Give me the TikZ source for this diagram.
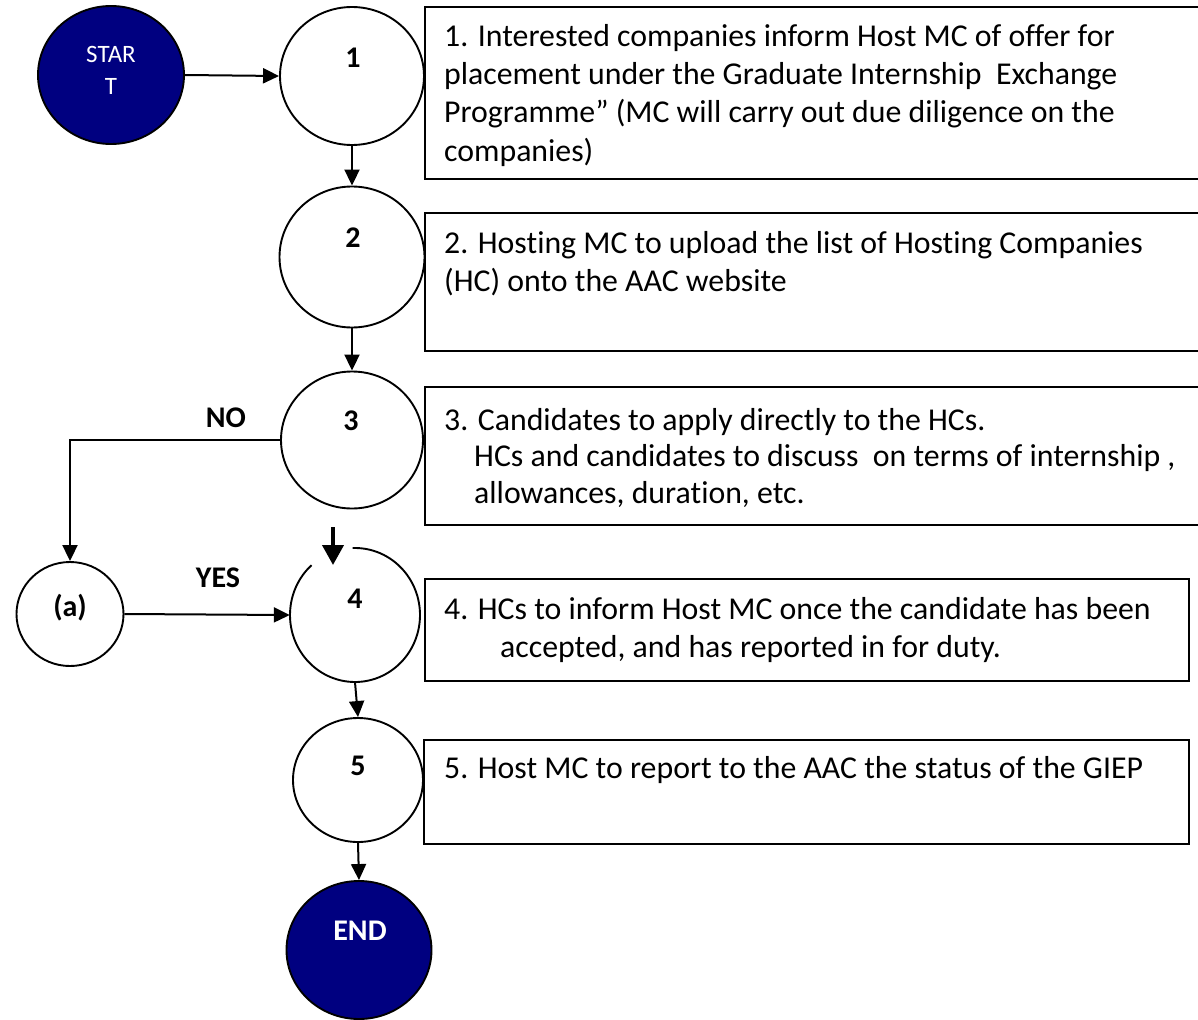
\documentclass[tikz,border=0pt]{standalone}
\usepackage{fontspec}
\setmainfont{Carlito}[Ligatures={NoCommon}]
\usetikzlibrary{shapes.geometric,arrows.meta}
\definecolor{navyfill}{RGB}{0,0,128}
\tikzset{
  circ/.style={draw=black, line width=1.9pt, ellipse, inner sep=0pt, fill=white},
  term/.style={draw=black, line width=1.9pt, ellipse, inner sep=0pt, fill=navyfill},
  boxr/.style={draw=black, line width=1.9pt, rectangle, inner sep=0pt, anchor=north west},
  txt/.style={anchor=base west, inner sep=0pt, font=\fontsize{31.8}{38}\selectfont},
  num/.style={inner sep=0pt, font=\fontsize{30}{32}\selectfont\bfseries},
  arr/.style={line width=2pt, -{Triangle[length=16pt,width=15pt]}},
}
\begin{document}
\begin{tikzpicture}[x=1pt,y=-1pt]
\clip (0,0) rectangle (1198,1019);
\fill[white] (0,0) rectangle (1198,1019);

% boxes
\node[boxr, minimum width=800pt, minimum height=172pt] (b1) at (424,6) {};
\node[boxr, minimum width=800pt, minimum height=138pt] (b2) at (424,212) {};
\node[boxr, minimum width=800pt, minimum height=138pt] (b3) at (424,386) {};
\node[boxr, minimum width=764pt, minimum height=102pt] (b4) at (424,578) {};
\node[boxr, minimum width=765pt, minimum height=104pt] (b5) at (423,739) {};

% box texts
\node[txt] (t1a) at (444,47) {1. Interested companies inform Host MC of offer for};
\node[txt] (t1b) at (444,85) {placement under the Graduate Internship\ \ Exchange};
\node[txt] (t1c) at (444,123) {Programme” (MC will carry out due diligence on the};
\node[txt] (t1d) at (444,161) {companies)};
\node[txt] (t2a) at (444,253) {2. Hosting MC to upload the list of Hosting Companies};
\node[txt] (t2b) at (444,291) {(HC) onto the AAC website};
\node[txt] (t3a) at (444,430) {3. Candidates to apply directly to the HCs.};
\node[txt] (t3b) at (474,466) {HCs and candidates to discuss\ \ on terms of internship ,};
\node[txt] (t3c) at (474,503) {allowances, duration, etc.};
\node[txt] (t4a) at (444,619) {4. HCs to inform Host MC once the candidate has been};
\node[txt] (t4b) at (500,657) {accepted, and has reported in for duty.};
\node[txt] (t5a) at (444,778) {5. Host MC to report to the AAC the status of the GIEP};

% circles
\node[term, minimum width=146pt, minimum height=138pt] (st) at (111,75) {};
\node[circ, minimum width=144pt, minimum height=138pt] (c1) at (352,76) {};
\node[circ, minimum width=145pt, minimum height=141pt] (c2) at (352,257) {};
\node[circ, minimum width=142pt, minimum height=137pt] (c3) at (352,440) {};
\node[circ, minimum width=107pt, minimum height=104pt] (ca) at (70,614) {};
\node[ellipse, inner sep=0pt, minimum width=130pt, minimum height=134pt] (c4) at (355,615) {};
\draw[line width=1.9pt] ([shift={(132:65pt and 67pt)}]c4.center) arc[start angle=132, end angle=452, x radius=65pt, y radius=67pt];
\node[circ, minimum width=130pt, minimum height=124pt] (c5) at (358,780) {};
\node[term, minimum width=145pt, minimum height=138pt] (en) at (359,950) {};

% circle labels
\node[inner sep=0pt, text=white, font=\fontsize{25}{27}\selectfont] (lst1) at (111,54) {STAR};
\node[inner sep=0pt, text=white, font=\fontsize{25}{27}\selectfont] (lst2) at (111,86) {T};
\node[num] (l1) at (353,58) {1};
\node[num] (l2) at (353,238) {2};
\node[num] (l3) at (351,421) {3};
\node[num] (l4) at (355,599) {4};
\node[num] (l5) at (358,766) {5};
\node[num] (la) at (70,608) {(a)};
\node[num, text=white] (lend) at (360,931) {END};
\node[num] (lno) at (226,418) {NO};
\node[num] (lyes) at (218,578) {YES};

% connectors
\draw[arr] (st.east) -- (c1.west);
\draw[arr] (c1.south) -- (c2.north);
\draw[arr] (c2.south) -- (c3.north);
\draw[arr] (c3.west) -| (ca.north);
\draw[arr] (ca.east) -- (c4.west);
\coordinate (in4a) at (333,527);
\coordinate (in4b) at (333,565);
\draw[line width=4pt, -{Triangle[length=20pt,width=21pt]}] (in4a) -- (in4b);
\draw[arr] (c4.south) -- (c5.north);
\draw[arr] (c5.south) -- (en.north);
\end{tikzpicture}
\end{document}
